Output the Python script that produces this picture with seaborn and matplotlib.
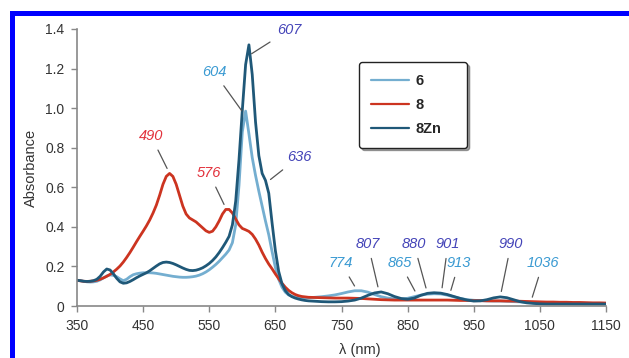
import numpy as np
import pandas as pd
import matplotlib.pyplot as plt
import seaborn as sns
from matplotlib.patches import Rectangle

# sampling grid (nm): 5 nm steps in the visible, 10 nm in the NIR
wavelength = list(range(350, 701, 5)) + list(range(710, 1151, 10))

# absorbance values
abs_6 = [
    0.130, 0.128, 0.125, 0.122, 0.121, 0.122, 0.125, 0.132, 0.142, 0.152,
    0.157, 0.155, 0.148, 0.137, 0.128, 0.135, 0.148, 0.158, 0.163, 0.166,
    0.168, 0.168, 0.168, 0.167, 0.165, 0.162, 0.159, 0.156, 0.153, 0.150,
    0.148, 0.146, 0.145, 0.145, 0.146, 0.148, 0.151, 0.156, 0.163, 0.172,
    0.183, 0.196, 0.210, 0.226, 0.244, 0.262, 0.283, 0.320, 0.410, 0.610,
    0.880, 0.985, 0.870, 0.750, 0.660, 0.580, 0.505, 0.430, 0.360, 0.275,
    0.195, 0.135, 0.095, 0.070, 0.056, 0.049, 0.045, 0.043, 0.042, 0.042,
    0.042,
    0.044, 0.047, 0.051, 0.056, 0.063, 0.071, 0.077, 0.077, 0.070, 0.058,
    0.047, 0.040, 0.036, 0.035, 0.039, 0.047, 0.055, 0.060, 0.062, 0.061,
    0.055, 0.046, 0.038, 0.032, 0.029, 0.027, 0.026, 0.025, 0.025, 0.024,
    0.022, 0.021, 0.019, 0.017, 0.015, 0.014, 0.013, 0.012, 0.012, 0.011,
    0.011, 0.010, 0.010, 0.010, 0.010,
]

abs_8 = [
    0.130, 0.127, 0.125, 0.124, 0.125, 0.127, 0.130, 0.135, 0.142, 0.150,
    0.160, 0.172, 0.186, 0.202, 0.222, 0.245, 0.270, 0.297, 0.325, 0.352,
    0.378, 0.405, 0.435, 0.470, 0.510, 0.560, 0.615, 0.655, 0.670, 0.655,
    0.615, 0.560, 0.505, 0.465, 0.445, 0.435, 0.425, 0.410, 0.395, 0.380,
    0.372, 0.378, 0.400, 0.430, 0.465, 0.488, 0.488, 0.470, 0.440, 0.410,
    0.392, 0.385, 0.377, 0.362, 0.338, 0.308, 0.272, 0.240, 0.212, 0.188,
    0.162, 0.138, 0.115, 0.095, 0.079, 0.067, 0.058, 0.052, 0.048, 0.046,
    0.044,
    0.043, 0.042, 0.041, 0.040, 0.040, 0.040, 0.039, 0.038, 0.036, 0.034,
    0.032, 0.031, 0.030, 0.030, 0.030, 0.030, 0.030, 0.030, 0.030, 0.030,
    0.030, 0.029, 0.028, 0.028, 0.027, 0.027, 0.026, 0.026, 0.026, 0.025,
    0.025, 0.024, 0.023, 0.022, 0.021, 0.020, 0.020, 0.019, 0.019, 0.018,
    0.018, 0.017, 0.016, 0.016, 0.015,
]

abs_8zn = [
    0.130, 0.128, 0.125, 0.124, 0.125, 0.128, 0.135, 0.150, 0.172, 0.187,
    0.182, 0.163, 0.140, 0.122, 0.115, 0.117, 0.124, 0.133, 0.143, 0.152,
    0.160, 0.168, 0.178, 0.190, 0.202, 0.213, 0.220, 0.222, 0.220, 0.215,
    0.208, 0.200, 0.192, 0.185, 0.180, 0.179, 0.181, 0.186, 0.193, 0.203,
    0.215, 0.230, 0.248, 0.270, 0.295, 0.322, 0.352, 0.410, 0.530, 0.740,
    0.990, 1.220, 1.320, 1.170, 0.930, 0.760, 0.670, 0.635, 0.570, 0.420,
    0.280, 0.175, 0.112, 0.078, 0.058, 0.047, 0.040, 0.035, 0.031, 0.028,
    0.026,
    0.024, 0.022, 0.021, 0.021, 0.022, 0.025, 0.030, 0.040, 0.054, 0.066,
    0.071, 0.062, 0.048, 0.038, 0.034, 0.040, 0.054, 0.064, 0.067, 0.065,
    0.058, 0.048, 0.038, 0.030, 0.025, 0.026, 0.032, 0.041, 0.046, 0.042,
    0.032, 0.022, 0.016, 0.013, 0.011, 0.010, 0.010, 0.010, 0.010, 0.010,
    0.010, 0.010, 0.010, 0.010, 0.010,
]

series_names = ["6", "8", "8Zn"]
line_colors = {"6": "#74aed0", "8": "#cc3420", "8Zn": "#1f5878"}
label_colors = {"6": "#3a9ad2", "8": "#e2323c", "8Zn": "#4444b8"}

# peak labels: (text, series, text position in data coords)
peak_labels = [
    ("607", "8Zn", (670.6, 1.395)),
    ("604", "6", (557.2, 1.182)),
    ("490", "8", (461.9, 0.859)),
    ("576", "8", (549.6, 0.672)),
    ("636", "8Zn", (685.7, 0.753)),
    ("774", "6", (749.2, 0.217)),
    ("807", "8Zn", (790.0, 0.313)),
    ("865", "6", (838.4, 0.217)),
    ("880", "8Zn", (859.6, 0.313)),
    ("901", "8Zn", (911.0, 0.313)),
    ("913", "6", (927.6, 0.217)),
    ("990", "8Zn", (1006.3, 0.313)),
    ("1036", "6", (1054.7, 0.217)),
]

df = pd.DataFrame({"wavelength": wavelength, "6": abs_6, "8": abs_8, "8Zn": abs_8zn})
long_df = df.melt(id_vars="wavelength", var_name="sample", value_name="absorbance")

sns.set_style("ticks")
plt.rcParams["font.family"] = ["Liberation Sans", "DejaVu Sans"]

fig = plt.figure(figsize=(6.29, 3.58), dpi=100)
ax = fig.add_axes([77 / 629, 1 - 306 / 358, 529 / 629, 277 / 358])

sns.lineplot(data=long_df, x="wavelength", y="absorbance", hue="sample",
             hue_order=series_names, palette=line_colors, linewidth=2.0, ax=ax)

ax.set_xlim(350, 1150)
ax.set_ylim(0, 1.4)
ax.set_xticks(np.arange(350, 1151, 100))
ax.set_yticks(np.arange(0, 1.41, 0.2))
ax.set_yticklabels(["0", "0.2", "0.4", "0.6", "0.8", "1.0", "1.2", "1.4"])
ax.tick_params(direction="out", length=4, width=1, color="#888888", pad=5,
               labelsize=10, labelcolor="#333333")
for side in ["left", "bottom"]:
    ax.spines[side].set_color("#888888")
    ax.spines[side].set_linewidth(1.2)
sns.despine(ax=ax)

ax.set_xlabel("λ (nm)", fontsize=10.5, color="#333333")
ax.xaxis.set_label_coords(0.535, -0.135)
ax.set_ylabel("Absorbance", fontsize=10.5, color="#333333", labelpad=5)

series_data = {"6": abs_6, "8": abs_8, "8Zn": abs_8zn}
for text, name, pos in peak_labels:
    nm = float(text)
    y = np.interp(nm, wavelength, series_data[name])
    ax.annotate(text, xy=(nm, y), xytext=pos, ha="center", va="center",
                fontsize=10.5, style="italic", color=label_colors[name],
                arrowprops=dict(arrowstyle="-", color="#555555", lw=0.9,
                                shrinkA=3, shrinkB=4))

leg = ax.legend(loc="upper left", bbox_to_anchor=(0.533, 0.578, 0.204, 0.303),
                mode="expand", borderaxespad=0, frameon=True, fancybox=True,
                shadow=True, handlelength=2.6, labelspacing=0.7, borderpad=0.8,
                handletextpad=0.5, prop={"weight": "bold", "size": 10.5})
leg.get_frame().set_edgecolor("#222222")
leg.get_frame().set_linewidth(1.0)
for line in leg.get_lines():
    line.set_linewidth(1.6)

# blue frame on the left and top
fig.add_artist(Rectangle((10 / 629, 0), 5 / 629, (358 - 11) / 358,
                         transform=fig.transFigure, color="#0000ff", lw=0))
fig.add_artist(Rectangle((10 / 629, 1 - 16 / 358), 1, 5 / 358,
                         transform=fig.transFigure, color="#0000ff", lw=0))

fig.savefig("out.png", dpi=100)
